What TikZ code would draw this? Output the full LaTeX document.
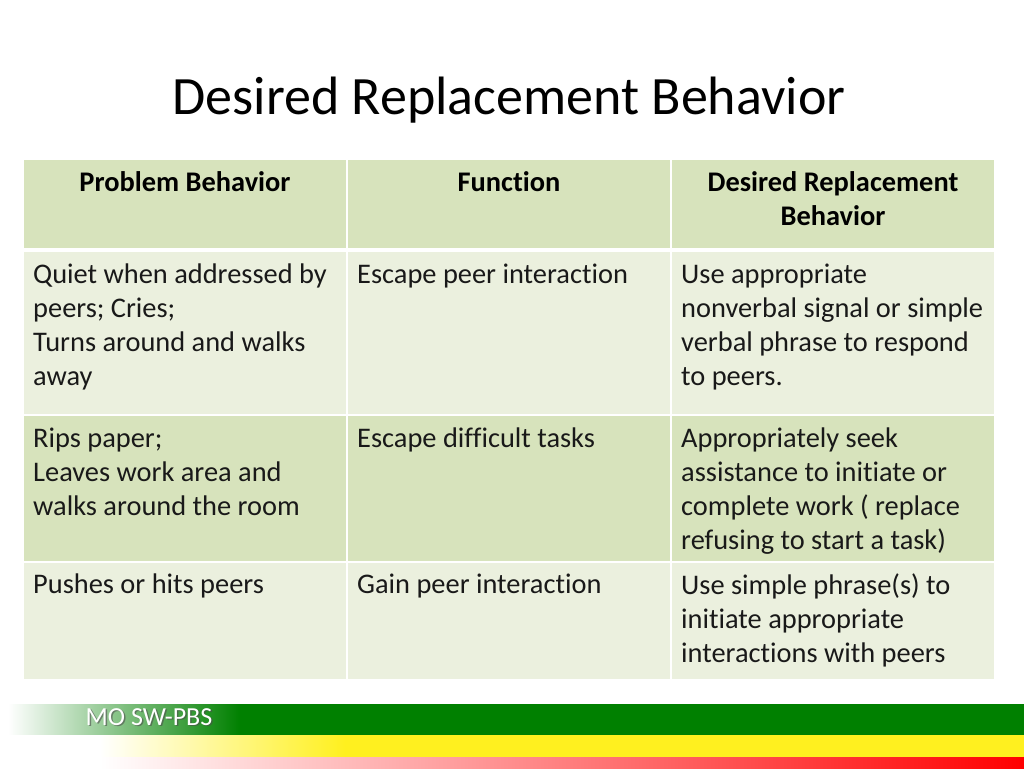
\documentclass[tikz,border=0pt]{standalone}
\usepackage{fontspec}
\setmainfont[Ligatures=CommonOff]{Carlito}
\usetikzlibrary{positioning}
\definecolor{headgreen}{HTML}{D7E3BC}
\definecolor{palegreen}{HTML}{EBF0DE}
\definecolor{bargreen}{HTML}{008000}
\definecolor{baryellow}{HTML}{FFF01F}
\tikzset{%
  title/.style={inner sep=0pt, font=\fontsize{54}{64}\selectfont},
  cell/.style={minimum width=322pt, inner sep=0pt, outer sep=0pt},
  dark cell/.style={cell, fill=headgreen},
  pale cell/.style={cell, fill=palegreen},
  head text/.style={anchor=north, align=center, inner sep=0pt, text depth=0pt, font=\fontsize{28.4}{34}\selectfont\bfseries},
  body text/.style={anchor=north west, align=left, inner sep=0pt, font=\fontsize{28.4}{34}\selectfont, text=black!90},
  logo/.style={inner sep=0pt, font=\fontsize{26}{30}\selectfont}
}
\begin{document}
\begin{tikzpicture}[x=1pt,y=-1pt]
  \useasboundingbox (0,0) rectangle (1024,768);

  \node[title] (heading) at (509,100) {Desired Replacement Behavior};

  % header row
  \node[dark cell, minimum height=88pt] (h1) at (185,204) {};
  \node[dark cell, minimum height=88pt, right=2pt of h1] (h2) {};
  \node[dark cell, minimum height=88pt, right=2pt of h2] (h3) {};

  % rows
  \node[pale cell, minimum height=162pt, below=4pt of h1] (a1) {};
  \node[pale cell, minimum height=162pt, right=2pt of a1] (a2) {};
  \node[pale cell, minimum height=162pt, right=2pt of a2] (a3) {};

  \node[dark cell, minimum height=145pt, below=2pt of a1] (b1) {};
  \node[dark cell, minimum height=145pt, right=2pt of b1] (b2) {};
  \node[dark cell, minimum height=145pt, right=2pt of b2] (b3) {};

  \node[pale cell, minimum height=116pt, below=2pt of b1] (c1) {};
  \node[pale cell, minimum height=116pt, right=2pt of c1] (c2) {};
  \node[pale cell, minimum height=116pt, right=2pt of c2] (c3) {};

  \node[head text, below=11pt of h1.north] {Problem Behavior};
  \node[head text, below=11pt of h2.north] {Function};
  \node[head text, below=11pt of h3.north] {Desired Replacement\\Behavior};

  \node[body text] at ([xshift=9pt,yshift=-12pt]a1.north west) {Quiet when addressed by\\peers; Cries;\\Turns around and walks\\away};
  \node[body text] at ([xshift=9pt,yshift=-12pt]a2.north west) {Escape peer interaction};
  \node[body text] at ([xshift=9pt,yshift=-12pt]a3.north west) {Use appropriate\\nonverbal signal or simple\\verbal phrase to respond\\to peers.};

  \node[body text] at ([xshift=9pt,yshift=-12pt]b1.north west) {Rips paper;\\Leaves work area and\\walks around the room};
  \node[body text] at ([xshift=9pt,yshift=-12pt]b2.north west) {Escape difficult tasks};
  \node[body text] at ([xshift=9pt,yshift=-12pt]b3.north west) {Appropriately seek\\assistance to initiate or\\complete work ( replace\\refusing to start a task)};

  \node[body text] at ([xshift=9pt,yshift=-11pt]c1.north west) {Pushes or hits peers};
  \node[body text] at ([xshift=9pt,yshift=-11pt]c2.north west) {Gain peer interaction};
  \node[body text] at ([xshift=9pt,yshift=-11pt]c3.north west) {Use simple phrase(s) to\\initiate appropriate\\interactions with peers};

  % footer bars
  \begin{scope}
    \clip (0,704) rectangle (1024,735);
    \shade[left color=white, right color=bargreen] (8,700) rectangle (240,740);
    \fill[bargreen] (240,704) rectangle (1024,735);
  \end{scope}
  \fill[white] (0,735) rectangle (101,768);
  \begin{scope}
    \clip (0,735) rectangle (1024,757);
    \shade[left color=white, right color=baryellow] (100,730) rectangle (345,762);
    \fill[baryellow] (345,735) rectangle (1024,757);
  \end{scope}
  \begin{scope}
    \clip (0,757) rectangle (1024,768);
    \shade[left color=white, middle color=red!35, right color=red] (100,752) rectangle (1024,773);
  \end{scope}

  \node[logo, text=black!70, opacity=.6] at (150.5,718.5) {MO SW-PBS};
  \node[logo, text=white] (badge) at (149,717) {MO SW-PBS};
\end{tikzpicture}
\end{document}
